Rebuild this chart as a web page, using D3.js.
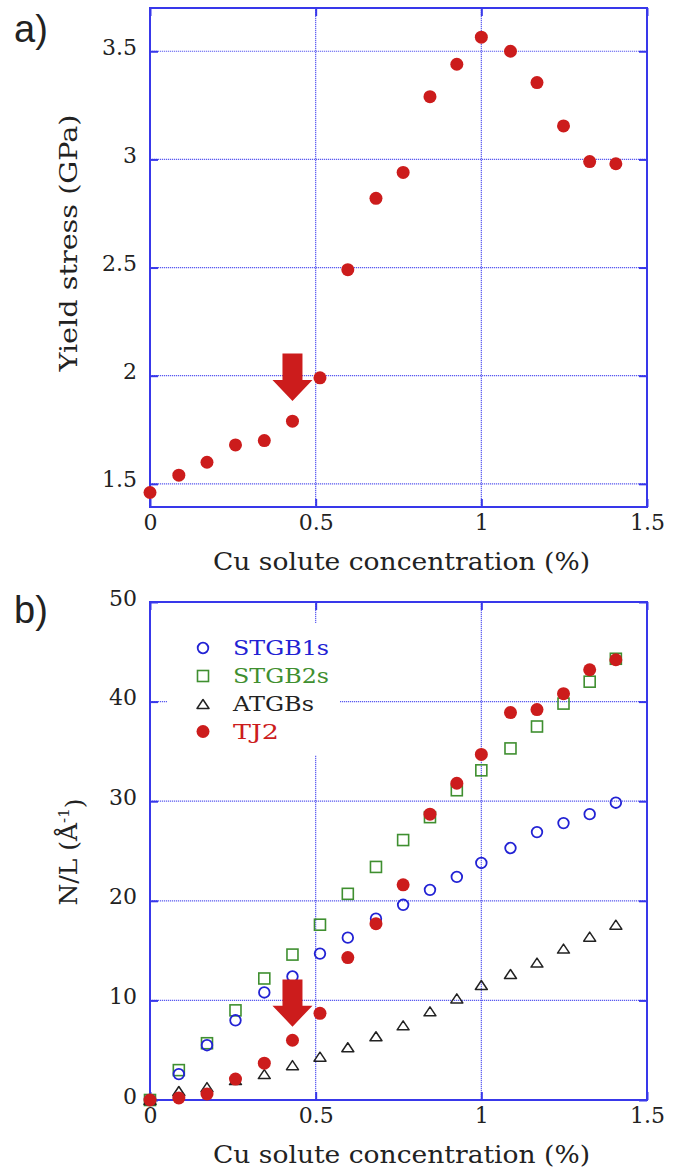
<!DOCTYPE html>
<html>
<head>
<meta charset="utf-8">
<script src="https://cdn.jsdelivr.net/npm/d3@7/dist/d3.min.js"></script>
<style>
  body { margin: 0; background: #fff; }
  text { font-family: "DejaVu Serif", serif; fill: #222; }
</style>
</head>
<body>
<div id="chart"></div>
<script>
// Cu solute concentration (%) - shared by both panels
var conc = [0, 0.087, 0.172, 0.258, 0.345, 0.43, 0.513, 0.597, 0.682, 0.764,
            0.845, 0.926, 1.0, 1.088, 1.168, 1.248, 1.327, 1.406];

// panel a) yield stress (GPa)
var yieldStress = [1.46, 1.54, 1.60, 1.68, 1.70, 1.79, 1.99, 2.49, 2.82, 2.94,
                   3.29, 3.44, 3.565, 3.50, 3.355, 3.155, 2.99, 2.98];

// panel b) N/L per segregation site type
var stgb1s = [0, 2.6, 5.5, 8.0, 10.8, 12.4, 14.7, 16.3, 18.2, 19.6,
              21.1, 22.4, 23.8, 25.3, 26.9, 27.8, 28.7, 29.85];
var stgb2s = [0, 3.0, 5.7, 9.0, 12.2, 14.6, 17.6, 20.7, 23.4, 26.1,
              28.4, 31.1, 33.1, 35.3, 37.5, 39.8, 42.0, 44.3];
var atgbs  = [0, 0.9, 1.3, 2.0, 2.6, 3.5, 4.35, 5.3, 6.4, 7.5,
              8.9, 10.2, 11.55, 12.65, 13.8, 15.2, 16.4, 17.6];
var tj2    = [0, 0.2, 0.6, 2.1, 3.7, 6.0, 8.7, 14.3, 17.7, 21.6,
              28.7, 31.8, 34.7, 38.9, 39.2, 40.8, 43.2, 44.2];

var legendNames = ["STGB1s", "STGB2s", "ATGBs", "TJ2"];

// ticks
var xTicks = [0, 0.5, 1, 1.5];
var yTicksA = [1.5, 2, 2.5, 3, 3.5];
var yTicksB = [0, 10, 20, 30, 40, 50];

// the red arrows: x position, then [tail, tip] in data units
var arrowX = 0.43;
var arrowA = [2.103, 1.883];
var arrowB = [12.1, 7.36];

//------------------------------------------------------------------
var W = 684, H = 1170;
var left = 150, right = 647;
var frameColor = "#3838ea";
var gridColor = "#5a5af0";
var red = "#cc1c1c", blue = "#2222d4", green = "#3f8f30", black = "#222";

var svg = d3.select("#chart").append("svg")
    .attr("width", W)
    .attr("height", H);

svg.append("rect").attr("width", W).attr("height", H).attr("fill", "#fff");

var fmt = function(d) { return String(d); };

function makePanel(top, bottom, yDomain, yTicks) {
  var x = d3.scaleLinear().domain([0, 1.5]).range([left, right]);
  var y = d3.scaleLinear().domain(yDomain).range([bottom, top]);
  var g = svg.append("g");

  // dotted grid
  var grid = g.append("g").attr("class", "grid");
  grid.selectAll(".hg")
      .data(yTicks.filter(function(d){ return y(d) > top + 1 && y(d) < bottom - 1; }))
      .enter().append("line")
      .attr("x1", left).attr("x2", right)
      .attr("y1", function(d){ return y(d); })
      .attr("y2", function(d){ return y(d); });
  grid.selectAll(".vg")
      .data(xTicks.filter(function(d){ return x(d) > left + 1 && x(d) < right - 1; }))
      .enter().append("line")
      .attr("y1", top).attr("y2", bottom)
      .attr("x1", function(d){ return x(d); })
      .attr("x2", function(d){ return x(d); });
  grid.selectAll("line")
      .attr("stroke", gridColor)
      .attr("stroke-width", 1.2)
      .attr("stroke-dasharray", "1.2,0.8");

  return {x: x, y: y, g: g, top: top, bottom: bottom, yTicks: yTicks};
}

function drawAxes(p) {
  var g = p.g;
  var ax = [
    g.append("g").attr("transform", "translate(" + left + ",0)")
      .call(d3.axisLeft(p.y).tickValues(p.yTicks).tickSize(-8).tickPadding(13).tickFormat(fmt)),
    g.append("g").attr("transform", "translate(" + right + ",0)")
      .call(d3.axisRight(p.y).tickValues(p.yTicks).tickSize(-8).tickFormat("")),
    g.append("g").attr("transform", "translate(0," + p.bottom + ")")
      .call(d3.axisBottom(p.x).tickValues(xTicks).tickSize(-8).tickPadding(7).tickFormat(fmt)),
    g.append("g").attr("transform", "translate(0," + p.top + ")")
      .call(d3.axisTop(p.x).tickValues(xTicks).tickSize(-8).tickFormat(""))
  ];
  ax.forEach(function(a) {
    a.select(".domain").remove();
    a.selectAll(".tick line").attr("stroke", frameColor).attr("stroke-width", 2);
    a.selectAll("text")
      .style("font-family", '"DejaVu Serif", serif')
      .style("font-size", "22px")
      .attr("fill", "#2a2a2a");
  });
  ax[0].selectAll("text").attr("dy", "0.14em");

  g.append("rect")
    .attr("x", left).attr("y", p.top)
    .attr("width", right - left).attr("height", p.bottom - p.top)
    .attr("fill", "none")
    .attr("stroke", frameColor)
    .attr("stroke-width", 2);

  g.append("text")
    .attr("x", (left + right) / 2 + 3)
    .attr("y", p.bottom + 63)
    .attr("text-anchor", "middle")
    .attr("textLength", 377)
    .attr("lengthAdjust", "spacingAndGlyphs")
    .style("font-size", "25px")
    .text("Cu solute concentration (%)");
}

function drawArrow(p, ends) {
  var cx = p.x(arrowX), y0 = p.y(ends[0]), y1 = p.y(ends[1]);
  var body = 10, head = 20, headLen = 21;
  var pts = [[cx - body, y0], [cx + body, y0], [cx + body, y1 - headLen],
             [cx + head, y1 - headLen], [cx, y1], [cx - head, y1 - headLen],
             [cx - body, y1 - headLen]];
  p.g.append("path")
    .attr("d", d3.line()(pts) + "Z")
    .attr("fill", red);
}

//********************  panel a  ********************
var pa = makePanel(8, 507, [1.393, 3.70], yTicksA);
drawAxes(pa);

pa.g.selectAll(".ys")
  .data(conc)
  .enter().append("circle")
  .attr("cx", function(d){ return pa.x(d); })
  .attr("cy", function(d, i){ return pa.y(yieldStress[i]); })
  .attr("r", 6.5)
  .attr("fill", red);

drawArrow(pa, arrowA);

pa.g.append("text")
  .attr("transform", "translate(77," + 243 + ") rotate(-90)")
  .attr("text-anchor", "middle")
  .attr("textLength", 257)
  .attr("lengthAdjust", "spacingAndGlyphs")
  .style("font-size", "25px")
  .text("Yield stress (GPa)");

svg.append("text")
  .attr("x", 14).attr("y", 42)
  .style("font-family", '"Liberation Sans", Arial, sans-serif')
  .style("font-size", "38px")
  .attr("fill", "#111")
  .text("a)");

//********************  panel b  ********************
var pb = makePanel(602, 1100, [0, 50], yTicksB);

// legend box hides the grid behind it
var lg = {x: left + 17, y: 623, w: 173, h: 132, symX: 203, txtX: 233, rowY: [648, 676, 704, 731.5]};
pb.g.append("rect")
  .attr("x", lg.x).attr("y", lg.y)
  .attr("width", lg.w).attr("height", lg.h)
  .attr("fill", "#fff");

drawAxes(pb);

function openCircle(sel, cx, cy) {
  sel.append("circle").attr("cx", cx).attr("cy", cy).attr("r", 5.3)
    .attr("fill", "none").attr("stroke", blue).attr("stroke-width", 1.8);
}
function openSquare(sel, cx, cy) {
  sel.append("rect").attr("x", cx - 5.5).attr("y", cy - 5.5)
    .attr("width", 11).attr("height", 11)
    .attr("fill", "none").attr("stroke", green).attr("stroke-width", 1.6);
}
function openTriangle(sel, cx, cy) {
  sel.append("path")
    .attr("d", d3.line()([[cx - 6, cy + 4.5], [cx + 6, cy + 4.5], [cx, cy - 4.5]]) + "Z")
    .attr("fill", "none").attr("stroke", black).attr("stroke-width", 1.5)
    .attr("stroke-linejoin", "round");
}
function dot(sel, cx, cy) {
  sel.append("circle").attr("cx", cx).attr("cy", cy).attr("r", 6.5).attr("fill", red);
}

var series = [
  {vals: stgb2s, draw: openSquare},
  {vals: stgb1s, draw: openCircle},
  {vals: atgbs, draw: openTriangle},
  {vals: tj2, draw: dot}
];
series.forEach(function(s) {
  var gs = pb.g.append("g");
  conc.forEach(function(c, i) {
    s.draw(gs, pb.x(c), pb.y(s.vals[i]));
  });
});

drawArrow(pb, arrowB);

// legend
var legendDraw = [openCircle, openSquare, openTriangle, dot];
var legendColor = [blue, green, black, red];
var legendLen = [96, 96, 81, 46];
legendNames.forEach(function(name, i) {
  legendDraw[i](pb.g, lg.symX, lg.rowY[i]);
  pb.g.append("text")
    .attr("x", lg.txtX)
    .attr("y", lg.rowY[i])
    .attr("dy", "0.36em")
    .attr("fill", legendColor[i])
    .attr("textLength", legendLen[i])
    .attr("lengthAdjust", "spacingAndGlyphs")
    .style("font-size", "20px")
    .style("fill", legendColor[i])
    .text(name);
});

var yl = pb.g.append("text")
  .attr("transform", "translate(77,852) rotate(-90)")
  .attr("text-anchor", "middle")
  .style("font-size", "25px");
yl.append("tspan").text("N/L (Å");
yl.append("tspan").attr("dy", "-0.55em").style("font-size", "15px").text("-1");
yl.append("tspan").attr("dy", "0.55em").text(")");

svg.append("text")
  .attr("x", 14).attr("y", 623)
  .style("font-family", '"Liberation Sans", Arial, sans-serif')
  .style("font-size", "38px")
  .attr("fill", "#111")
  .text("b)");
</script>
</body>
</html>
